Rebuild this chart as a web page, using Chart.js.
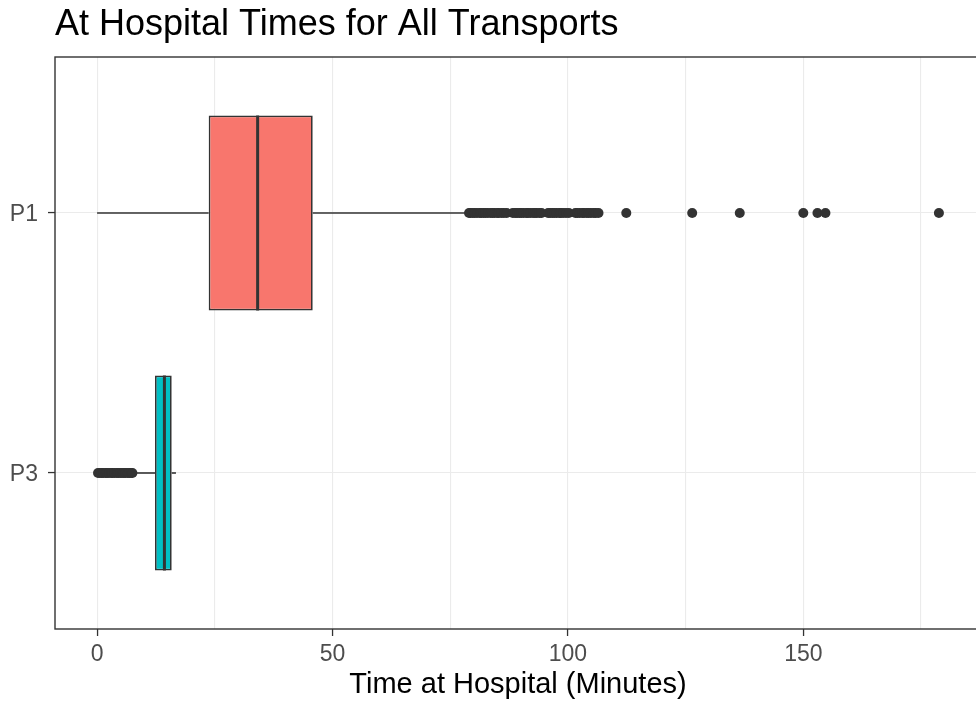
<!DOCTYPE html>
<html>
<head>
<meta charset="utf-8">
<title>At Hospital Times for All Transports</title>
<script src="https://cdn.jsdelivr.net/npm/chart.js@4.4.1/dist/chart.umd.min.js"></script>
<style>
  html, body { margin: 0; padding: 0; background: #fff; overflow: hidden; }
  #wrap { width: 986px; height: 709px; }
</style>
</head>
<body>
<div id="wrap"><canvas id="chart" width="986" height="709"></canvas></div>
<script>
  // box statistics per transport priority (minutes)
  const categories = ["P1", "P3"];
  const q1 = [23.7, 12.3];
  const medians = [34.1, 14.3];
  const q3 = [45.8, 15.85];
  const whiskerLow = [0, 7.8];
  const whiskerHigh = [78.6, 16.75];

  const outliersP1 = [
    79.0, 79.3, 79.8, 80.2, 80.7, 81.3, 81.6, 82.1, 82.5, 83.0, 83.6, 84.0,
    84.4, 85.0, 85.3, 85.9, 86.4, 87.0,
    88.3, 88.8, 89.2, 89.7, 90.1, 90.6, 91.2, 91.5, 92.0, 92.6, 93.0, 93.4,
    94.0, 94.4,
    95.8, 96.2, 96.7, 97.1, 97.6, 98.2, 98.5, 99.0, 99.6, 100.2,
    101.6, 102.0, 102.5, 103.1, 103.4, 104.0, 104.4, 104.9, 105.5, 105.9, 106.5,
    112.4, 126.4, 136.5, 150.0, 153.0, 154.7, 178.8,
  ];
  const outliersP3 = [
    0.2, 0.6, 1.0, 1.3, 1.8, 2.1, 2.5, 3.0, 3.3, 3.7, 4.2, 4.5, 4.9, 5.3,
    5.7, 6.0, 6.5, 6.8, 7.2, 7.5,
  ];
  const outliers = [outliersP1, outliersP3];

  const xTicks = [0, 25, 50, 75, 100, 125, 150, 175];
  const xLabelled = [0, 50, 100, 150];
  const boxColors = ["#F8766D", "#00BFC4"];

  const INK = "#333333";
  const BOX_WIDTH = 0.75;

  Chart.defaults.font.family = '"Liberation Sans", Arial, sans-serif';

  // ggplot-like limits: 5% on the value axis, 0.6 on the discrete axis
  const allValues = [].concat(whiskerLow, whiskerHigh, ...outliers);
  const dataMin = Math.min(...allValues);
  const dataMax = Math.max(...allValues);
  const pad = (dataMax - dataMin) * 0.05;

  const datasets = [];

  categories.forEach((cat, i) => {
    const pos = i + 1;
    datasets.push({
      type: "line",
      order: 3,
      data: [{ x: whiskerLow[i], y: pos }, { x: q1[i], y: pos }],
      borderColor: INK,
      borderWidth: 1.6,
      pointRadius: 0,
      fill: false,
    });
    datasets.push({
      type: "line",
      order: 3,
      data: [{ x: q3[i], y: pos }, { x: whiskerHigh[i], y: pos }],
      borderColor: INK,
      borderWidth: 1.6,
      pointRadius: 0,
      fill: false,
    });
    datasets.push({
      type: "line",
      order: 1,
      data: [
        { x: medians[i], y: pos - BOX_WIDTH / 2 },
        { x: medians[i], y: pos + BOX_WIDTH / 2 },
      ],
      borderColor: INK,
      borderWidth: 3,
      pointRadius: 0,
      fill: false,
    });
    datasets.push({
      type: "scatter",
      order: 0,
      data: outliers[i].map((v) => ({ x: v, y: pos })),
      pointRadius: 5,
      pointBackgroundColor: INK,
      pointBorderWidth: 0,
    });
  });

  datasets.push({
    type: "bar",
    order: 2,
    indexAxis: "y",
    data: categories.map((c, i) => ({ y: i + 1, x: [q1[i], q3[i]] })),
    backgroundColor: boxColors,
    borderColor: INK,
    borderWidth: 1.7,
    borderSkipped: false,
    categoryPercentage: BOX_WIDTH,
    barPercentage: 1,
  });

  const panelBorder = {
    id: "panelBorder",
    afterDraw(chart) {
      const { ctx, chartArea: a } = chart;
      ctx.save();
      ctx.strokeStyle = INK;
      ctx.lineWidth = 1.4;
      ctx.strokeRect(a.left, a.top, a.right - a.left, a.bottom - a.top);
      ctx.restore();
    },
  };

  new Chart(document.getElementById("chart"), {
    type: "scatter",
    data: { datasets },
    plugins: [panelBorder],
    options: {
      responsive: false,
      animation: false,
      events: [],
      layout: { padding: 0 },
      plugins: {
        legend: { display: false },
        tooltip: { enabled: false },
        title: {
          display: true,
          text: "At Hospital Times for All Transports",
          align: "start",
          fullSize: false,
          color: "#000",
          font: { size: 36, weight: "normal" },
          padding: { top: 3, bottom: 10.8 },
        },
      },
      scales: {
        x: {
          type: "linear",
          min: dataMin - pad,
          max: dataMax + pad,
          offset: false,
          afterFit(scale) {
            scale.height = 80;
          },
          afterBuildTicks(scale) {
            scale.ticks = xTicks.map((v) => ({ value: v }));
          },
          border: { display: false },
          grid: {
            offset: false,
            color: "#EBEBEB",
            lineWidth: 1.1,
            tickLength: 7,
            tickWidth: 1.3,
            tickColor: (ctx) =>
              ctx.tick && xLabelled.includes(ctx.tick.value) ? INK : "rgba(0,0,0,0)",
          },
          ticks: {
            autoSkip: false,
            maxRotation: 0,
            padding: 5,
            color: "#4D4D4D",
            font: { size: 23 },
            callback: (v) => (xLabelled.includes(v) ? String(v) : ""),
          },
          title: {
            display: true,
            text: "Time at Hospital (Minutes)",
            color: "#000",
            font: { size: 29 },
            padding: { top: 0, bottom: 7 },
          },
        },
        y: {
          type: "linear",
          reverse: true,
          min: 1 - 0.6,
          max: categories.length + 0.6,
          offset: false,
          afterFit(scale) {
            scale.width = 55;
          },
          afterBuildTicks(scale) {
            scale.ticks = categories.map((c, i) => ({ value: i + 1 }));
          },
          border: { display: false },
          grid: {
            offset: false,
            color: "#EBEBEB",
            lineWidth: 1.1,
            tickLength: 7,
            tickWidth: 1.3,
            tickColor: INK,
          },
          ticks: {
            padding: 10,
            labelOffset: 2,
            color: "#4D4D4D",
            font: { size: 23 },
            callback: (v) => categories[v - 1] || "",
          },
        },
      },
    },
  });
</script>
</body>
</html>
